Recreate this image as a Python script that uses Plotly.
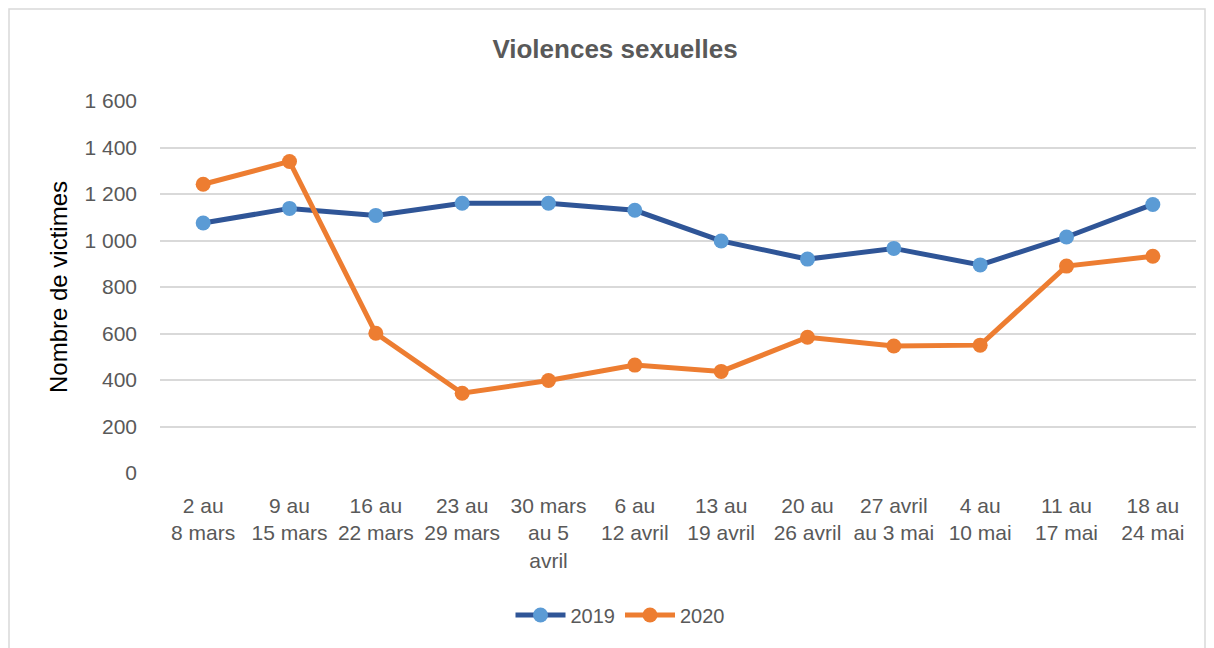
import plotly.graph_objects as go

categories = ["2 au<br>8 mars", "9 au<br>15 mars", "16 au<br>22 mars", "23 au<br>29 mars",
              "30 mars<br>au 5<br>avril", "6 au<br>12 avril", "13 au<br>19 avril", "20 au<br>26 avril",
              "27 avril<br>au 3 mai", "4 au<br>10 mai", "11 au<br>17 mai", "18 au<br>24 mai"]
values_2019 = [1075, 1138, 1108, 1160, 1160, 1130, 998, 920, 966, 895, 1015, 1155]
values_2020 = [1242, 1340, 601, 343, 398, 464, 437, 584, 546, 550, 890, 932]
y_ticks = [0, 200, 400, 600, 800, 1000, 1200, 1400, 1600]

W, H = 1214, 648
OFF = 8  # page body margin
ml, mr = 160 - OFF, W - (1196 - OFF)
mt, mb = 101 - OFF, H - (473 - OFF)
pw, ph = W - ml - mr, H - mt - mb

def px_x(p):
    return (p - OFF - ml) / pw

def px_y(p):
    return (H - mb - (p - OFF)) / ph

fig = go.Figure()
fig.add_trace(go.Scatter(x=categories, y=values_2019, name="2019", mode="lines+markers",
                         line=dict(color="#2F5597", width=5),
                         marker=dict(color="#5B9BD5", size=15)))
fig.add_trace(go.Scatter(x=categories, y=values_2020, name="2020", mode="lines+markers",
                         line=dict(color="#ED7D31", width=5),
                         marker=dict(color="#ED7D31", size=15)))

fig.update_layout(
    width=W, height=H,
    margin=dict(l=ml, r=mr, t=mt, b=mb),
    paper_bgcolor="white", plot_bgcolor="white",
    font=dict(family="Liberation Sans, Arial, sans-serif", size=21, color="#595959"),
    separators=", ",
    title=dict(text="<b>Violences sexuelles</b>", x=0.5, xanchor="center",
               y=1 - (49 - OFF) / H, yanchor="middle",
               font=dict(size=26, color="#595959")),
    showlegend=True,
    legend=dict(orientation="h", x=px_x(620), xanchor="center", y=px_y(615), yanchor="middle",
                font=dict(size=20, color="#595959"), itemwidth=50),
    xaxis=dict(range=[-0.5, 11.5], showgrid=False, showline=False, ticks="",
               ticklabelstandoff=18, tickfont=dict(size=21, color="#595959")),
    yaxis=dict(range=[0, 1600], tickvals=y_ticks, tickformat=",d", showgrid=True,
               gridcolor="#D9D9D9", gridwidth=1.5, zeroline=False, showline=False, ticks="",
               ticklabelstandoff=22,
               tickfont=dict(size=21, color="#595959"),
               title=dict(text="Nombre de victimes", font=dict(size=24, color="#000000"), standoff=10)),
    shapes=[dict(type="rect", xref="paper", yref="paper",
                 x0=px_x(9), x1=px_x(1205), y0=px_y(655), y1=px_y(9),
                 line=dict(color="#D9D9D9", width=1.5), layer="below")],
)

fig.write_html("out.html")
